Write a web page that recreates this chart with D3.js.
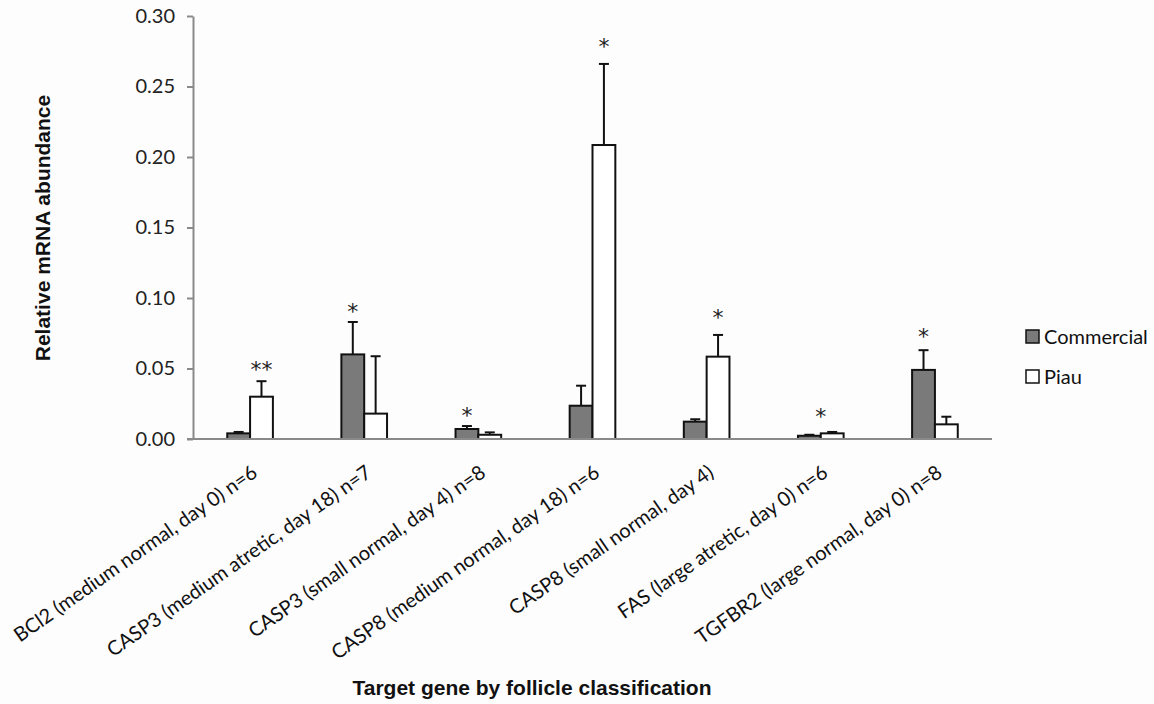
<!DOCTYPE html>
<html>
<head>
<meta charset="utf-8">
<script src="https://cdn.jsdelivr.net/npm/d3@7/dist/d3.min.js"></script>
<style>
  html, body { margin: 0; padding: 0; background: #fdfdfd; }
  svg { display: block; }
</style>
</head>
<body>
<svg id="chart" width="1154" height="704"></svg>
<script>
// Target genes grouped by follicle classification
const categories = [
  "BCl2 (medium normal, day 0) n=6",
  "CASP3 (medium atretic, day 18) n=7",
  "CASP3 (small normal, day 4) n=8",
  "CASP8 (medium normal, day 18) n=6",
  "CASP8 (small normal, day 4)",
  "FAS (large atretic, day 0) n=6",
  "TGFBR2 (large normal, day 0) n=8"
];
const seriesNames = ["Commercial", "Piau"];

// Mean relative mRNA abundance and upper error (mean + SE)
const commercial    = [0.004, 0.060, 0.0071, 0.0236, 0.0123, 0.0023, 0.049];
const commercialErr = [0.005, 0.083, 0.0092, 0.0378, 0.0140, 0.0030, 0.063];
const piau          = [0.030, 0.018, 0.0030, 0.2085, 0.0584, 0.0040, 0.0104];
const piauErr       = [0.041, 0.0587, 0.0047, 0.2660, 0.0738, 0.0050, 0.0158];

// Significance markers: symbol, which bar it sits over, and its height
const starText  = ["**", "*", "*", "*", "*", "*", "*"];
const starOver  = ["Piau", "Commercial", "Commercial", "Piau", "Piau", "both", "Commercial"];
const starLevel = [0.052, 0.093, 0.0194, 0.281, 0.089, 0.0187, 0.075];

const yTicks = [0.00, 0.05, 0.10, 0.15, 0.20, 0.25, 0.30];

const fillColor = { Commercial: "#7a7a7a", Piau: "#ffffff" };
const labelFont = "Lato, 'Open Sans', sans-serif";
const starFont = "'DejaVu Sans', sans-serif";
const titleFont = "'Liberation Sans', Arial, sans-serif";

const svg = d3.select("#chart");
const plot = { left: 193, right: 992, top: 16, bottom: 439 };

const x = d3.scaleBand().domain(categories).range([plot.left, plot.right]).padding(0);
const bw = x.bandwidth();
const x1 = d3.scaleBand().domain(seriesNames).range([bw * 0.3, bw * 0.7]).padding(0);
const y = d3.scaleLinear().domain([0, 0.30]).range([plot.bottom, plot.top]);

// Y axis
const yAxis = svg.append("g")
  .attr("transform", `translate(${plot.left},0)`)
  .call(d3.axisLeft(y).tickValues(yTicks).tickFormat(d3.format(".2f")).tickSize(6).tickSizeOuter(0).tickPadding(12));
yAxis.select(".domain").attr("stroke", "#8a8a8a").attr("stroke-width", 2);
yAxis.selectAll(".tick line").attr("stroke", "#8a8a8a").attr("stroke-width", 2);
yAxis.selectAll(".tick text")
  .attr("font-family", labelFont).attr("font-size", 20).attr("fill", "#222");

// Rows of data per category
const rows = categories.map((c, i) => ({
  cat: c,
  bars: [
    { s: "Commercial", v: commercial[i], e: commercialErr[i] },
    { s: "Piau", v: piau[i], e: piauErr[i] }
  ]
}));

const groups = svg.append("g").selectAll("g").data(rows).join("g")
  .attr("transform", d => `translate(${x(d.cat)},0)`);

// Error bars (upper only), drawn behind the bars
groups.selectAll("g.err").data(d => d.bars).join("g").attr("class", "err")
  .each(function(d) {
    const g = d3.select(this);
    const cx = x1(d.s) + x1.bandwidth() / 2;
    g.append("line").attr("x1", cx).attr("x2", cx).attr("y1", y(d.v)).attr("y2", y(d.e))
      .attr("stroke", "#111").attr("stroke-width", 2);
    g.append("line").attr("x1", cx - 5).attr("x2", cx + 5).attr("y1", y(d.e)).attr("y2", y(d.e))
      .attr("stroke", "#111").attr("stroke-width", 2);
  });

groups.selectAll("rect").data(d => d.bars).join("rect")
  .attr("x", d => x1(d.s))
  .attr("y", d => y(d.v))
  .attr("width", x1.bandwidth())
  .attr("height", d => y(0) - y(d.v))
  .attr("fill", d => fillColor[d.s])
  .attr("stroke", "#111")
  .attr("stroke-width", 2);

// X axis line
svg.append("line")
  .attr("x1", plot.left - 6).attr("x2", plot.right)
  .attr("y1", y(0)).attr("y2", y(0))
  .attr("stroke", "#8a8a8a").attr("stroke-width", 2);

// Significance asterisks
svg.append("g").selectAll("text").data(categories).join("text")
  .attr("x", (c, i) => {
    const over = starOver[i];
    const off = over === "both" ? bw / 2 : x1(over) + x1.bandwidth() / 2;
    return x(c) + off;
  })
  .attr("y", (c, i) => y(starLevel[i]))
  .attr("dy", "0.5em")
  .attr("text-anchor", "middle")
  .attr("font-family", starFont)
  .attr("font-size", 22)
  .attr("fill", "#222")
  .text((c, i) => starText[i]);

// Rotated category labels
svg.append("g").selectAll("text").data(categories).join("text")
  .attr("transform", c => `translate(${x(c) + bw / 2 + 4},469) rotate(-35)`)
  .attr("text-anchor", "end")
  .attr("dominant-baseline", "central")
  .attr("font-family", labelFont)
  .attr("font-size", 20)
  .attr("fill", "#111")
  .text(c => c);

// Axis titles
svg.append("text")
  .attr("transform", `translate(50,228) rotate(-90)`)
  .attr("text-anchor", "middle")
  .attr("font-family", titleFont).attr("font-weight", "bold").attr("font-size", 21)
  .attr("fill", "#111")
  .text("Relative mRNA abundance");

svg.append("text")
  .attr("x", 532).attr("y", 695)
  .attr("text-anchor", "middle")
  .attr("font-family", titleFont).attr("font-weight", "bold").attr("font-size", 21)
  .attr("fill", "#111")
  .text("Target gene by follicle classification");

// Legend
const legend = svg.append("g").selectAll("g").data(seriesNames).join("g")
  .attr("transform", (d, i) => `translate(1026,${330 + i * 40})`);
legend.append("rect")
  .attr("width", 13).attr("height", 13)
  .attr("fill", d => fillColor[d]).attr("stroke", "#111").attr("stroke-width", 1.5);
legend.append("text")
  .attr("x", 18).attr("y", 14)
  .attr("font-family", labelFont).attr("font-size", 20).attr("fill", "#111")
  .text(d => d);
</script>
</body>
</html>
